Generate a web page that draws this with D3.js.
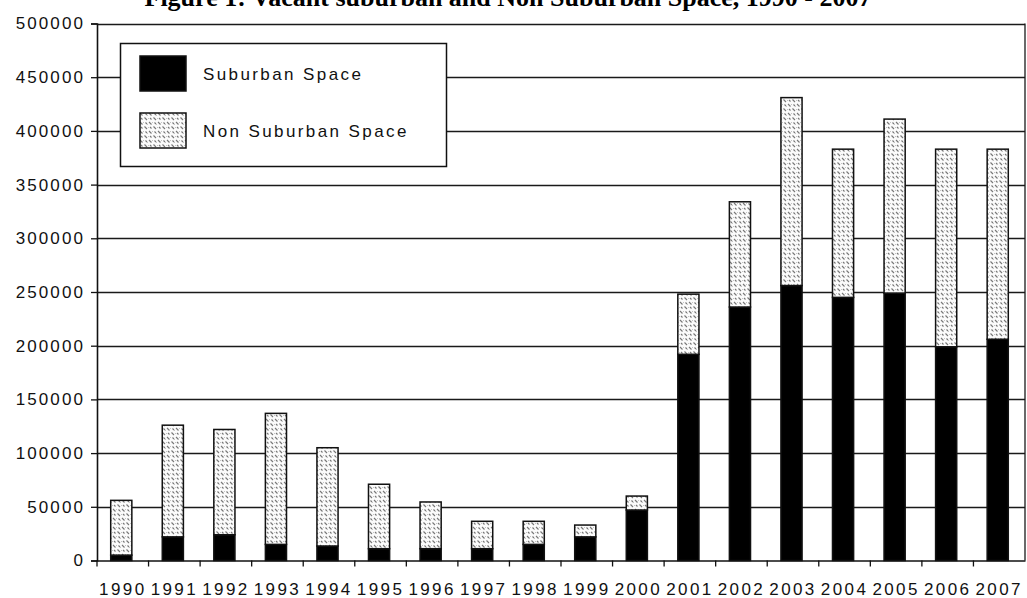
<!DOCTYPE html>
<html>
<head>
<meta charset="utf-8">
<script src="https://cdn.jsdelivr.net/npm/d3@7"></script>
<style>
  html, body { margin: 0; padding: 0; background: #fff; }
  svg { display: block; }
</style>
</head>
<body>
<svg id="chart" width="1027" height="598"></svg>
<script>
// Vacant space by year, split into suburban and non-suburban parts
const years = ["1990","1991","1992","1993","1994","1995","1996","1997","1998","1999",
               "2000","2001","2002","2003","2004","2005","2006","2007"];
const suburban = [5000, 22000, 24000, 15000, 13500, 11000, 11000, 11000, 15000, 22000,
                  47000, 192000, 236000, 256000, 245000, 249000, 199000, 206000];
const totals = [56000, 126000, 122000, 137000, 105000, 71000, 54500, 36500, 36500, 33000,
                60000, 248000, 334000, 431000, 383000, 411000, 383000, 383000];
const nonSuburban = totals.map((t, i) => t - suburban[i]);
const yTicks = [0, 50000, 100000, 150000, 200000, 250000, 300000, 350000, 400000, 450000, 500000];
const seriesNames = ["Suburban Space", "Non Suburban Space"];
const titleText = "Figure 1: Vacant suburban and Non Suburban Space, 1990 - 2007";

const svg = d3.select("#chart");
const m = { left: 97, right: 1025, top: 23.5, bottom: 560.5 };

const x = d3.scaleBand().domain(years).range([m.left, m.right]).paddingInner(0.59).paddingOuter(0.295);
const y = d3.scaleLinear().domain([0, 500000]).range([m.bottom, m.top]);

// Hatched fill used by the non-suburban segments
const defs = svg.append("defs");
const pat = defs.append("pattern").attr("id", "hatch").attr("patternUnits", "userSpaceOnUse")
  .attr("width", 9).attr("height", 9);
pat.append("rect").attr("width", 9).attr("height", 9).attr("fill", "#fbfbfb");
pat.append("path").attr("d", "M0.5,0.5 L3,3 M5,5 L7.5,7.5 M6,1 L7.5,2.5 M1.5,5.5 L3,7")
  .attr("stroke", "#777").attr("stroke-width", 1.1).attr("fill", "none");
pat.append("path").attr("d", "M4,2 L5,1 M8,6 L9,5 M3,8 L4,7")
  .attr("stroke", "#c4c4c4").attr("stroke-width", 1).attr("fill", "none");

// Title (serif, bold)
svg.append("text").attr("x", 508).attr("y", 6).attr("text-anchor", "middle")
  .style("font-family", "'Liberation Serif', 'Times New Roman', serif")
  .style("font-weight", "bold").style("font-size", "26px")
  .text(titleText);

// Horizontal gridlines
svg.append("g").selectAll("line").data(yTicks.filter(d => d > 0)).join("line")
  .attr("x1", m.left).attr("x2", m.right)
  .attr("y1", d => Math.round(y(d)) + 0.5).attr("y2", d => Math.round(y(d)) + 0.5)
  .attr("stroke", "#1a1a1a").attr("stroke-width", 1.3);

// Right frame edge
svg.append("line").attr("x1", m.right).attr("x2", m.right).attr("y1", y(500000)).attr("y2", y(0))
  .attr("stroke", "#1a1a1a").attr("stroke-width", 1.3);

// Stacked bars
const stackData = years.map((yr, i) => ({ year: yr, sub: suburban[i], non: nonSuburban[i] }));
const stacked = d3.stack().keys(["sub", "non"])(stackData);
const fills = ["#000", "url(#hatch)"];
svg.append("g").selectAll("g").data(stacked).join("g")
  .attr("fill", (d, i) => fills[i])
  .selectAll("rect").data(d => d).join("rect")
  .attr("x", d => x(d.data.year) - 1.5)
  .attr("width", x.bandwidth())
  .attr("y", d => y(d[1]))
  .attr("height", d => y(d[0]) - y(d[1]))
  .attr("stroke", "#111").attr("stroke-width", 1.5);

// Axes
const tickFont = "'Liberation Sans', Arial, sans-serif";
const yAxis = svg.append("g").attr("transform", `translate(${m.left},0)`)
  .call(d3.axisLeft(y).tickValues(yTicks).tickFormat(d3.format("d")).tickSize(6).tickPadding(6));
yAxis.select(".domain").attr("stroke", "#111").attr("stroke-width", 1.6);
yAxis.selectAll(".tick line").attr("stroke", "#111").attr("stroke-width", 1.3);
yAxis.selectAll("text").style("font-family", tickFont).style("font-size", "17px")
  .style("letter-spacing", "2.1px").attr("fill", "#111");

const xAxis = svg.append("g").attr("transform", `translate(0,${m.bottom})`)
  .call(d3.axisBottom(x).tickSize(0).tickPadding(22));
xAxis.select(".domain").attr("stroke", "#111").attr("stroke-width", 1.6);
xAxis.selectAll("text").style("font-family", tickFont).style("font-size", "17px")
  .style("letter-spacing", "2.4px").attr("fill", "#111");

// Tick marks sit between categories
const step = x.step();
const boundaries = d3.range(years.length).map(i => x(years[i]) - x.paddingOuter() * step);
svg.append("g").selectAll("line").data(boundaries).join("line")
  .attr("x1", d => d).attr("x2", d => d).attr("y1", m.bottom).attr("y2", m.bottom + 6)
  .attr("stroke", "#111").attr("stroke-width", 1.3);

// Legend
const lg = svg.append("g");
lg.append("rect").attr("x", 120.5).attr("y", 43.5).attr("width", 326).attr("height", 123)
  .attr("fill", "#fff").attr("stroke", "#111").attr("stroke-width", 1.5);
const legendRows = [{ name: seriesNames[0], fill: fills[0], yy: 56 }, { name: seriesNames[1], fill: fills[1], yy: 113 }];
lg.selectAll("rect.sw").data(legendRows).join("rect").attr("class", "sw")
  .attr("x", 140).attr("y", d => d.yy).attr("width", 46).attr("height", 35)
  .attr("fill", d => d.fill).attr("stroke", "#111").attr("stroke-width", 1.5);
lg.selectAll("text").data(legendRows).join("text")
  .attr("x", 203).attr("y", d => d.yy + 18).attr("dy", "0.35em")
  .style("font-family", tickFont).style("font-size", "17px").style("letter-spacing", "2.4px")
  .attr("fill", "#111").text(d => d.name);
</script>
</body>
</html>
